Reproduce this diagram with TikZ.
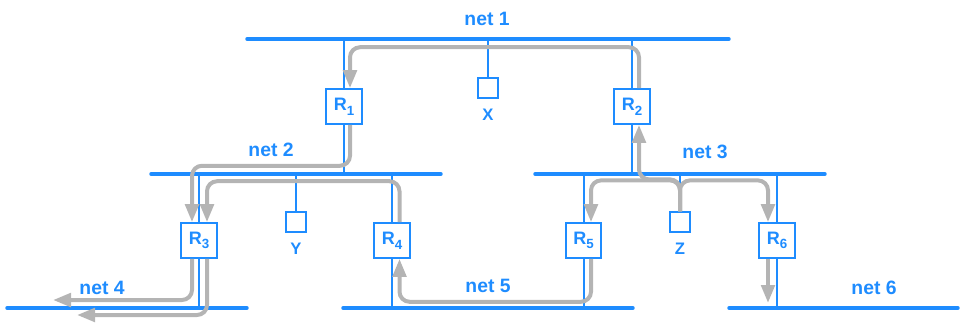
\documentclass[tikz,border=0pt]{standalone}
\usepackage{fontspec}
\setmainfont{Liberation Sans}
\usetikzlibrary{arrows.meta,calc}
\definecolor{netblue}{RGB}{30,140,255}
\definecolor{flowgray}{RGB}{180,180,180}
\newcommand{\rlab}[1]{\textbf{R\raisebox{-3.5pt}{\fontsize{10}{11}\selectfont #1}}}
\tikzset{
  net/.style={draw=netblue,line width=2.6pt,line cap=round},
  link/.style={draw=netblue,line width=1.5pt},
  router/.style={draw=netblue,line width=1.4pt,fill=white,minimum width=26.5pt,minimum height=26pt,inner sep=0pt,text=netblue,font=\fontsize{13.5}{15}\selectfont\bfseries},
  host/.style={draw=netblue,line width=1.4pt,fill=white,minimum size=14.5pt,inner sep=0pt},
  lab/.style={text=netblue,font=\fontsize{12.5}{14}\selectfont\bfseries,anchor=base,inner sep=0pt},
  netlab/.style={text=netblue,font=\fontsize{14.5}{16}\selectfont\bfseries,anchor=base,inner sep=0pt},
  flow/.style={draw=flowgray,line width=3pt,rounded corners=7.5pt,-{Triangle[length=13.5pt,width=10pt]}},
}
\begin{document}
\begin{tikzpicture}[x=0.75pt,y=-0.75pt]
\useasboundingbox (0,0) rectangle (961,322);
% net end points
\coordinate (n1w) at (247,39);  \coordinate (n1e) at (729,39);
\coordinate (n2w) at (151,174); \coordinate (n2e) at (441,174);
\coordinate (n3w) at (535,174); \coordinate (n3e) at (825,174);
\coordinate (n4w) at (7,308);   \coordinate (n4e) at (247,308);
\coordinate (n5w) at (343,308); \coordinate (n5e) at (633,308);
\coordinate (n6w) at (729,308); \coordinate (n6e) at (958,308);
\draw[net] (n1w) -- (n1e);
\draw[net] (n2w) -- (n2e);
\draw[net] (n3w) -- (n3e);
\draw[net] (n4w) -- (n4e);
\draw[net] (n5w) -- (n5e);
\draw[net] (n6w) -- (n6e);
% net labels
\node[netlab] (l1) at (487,25.7) {net 1};
\node[netlab] (l2) at (271,156.7) {net 2};
\node[netlab] (l3) at (705,158) {net 3};
\node[netlab] (l4) at (102,294) {net 4};
\node[netlab] (l5) at (488,292) {net 5};
\node[netlab] (l6) at (874,294) {net 6};
% router positions
\coordinate (p1) at (344,106.5);
\coordinate (p2) at (632,106.5);
\coordinate (p3) at (199,240.5);
\coordinate (p4) at (392,240.5);
\coordinate (p5) at (583.5,240.5);
\coordinate (p6) at (777,240.5);
% links
\draw[link] (p1 |- n1w) -- (p1 |- n2w);
\draw[link] (p2 |- n1w) -- (p2 |- n3w);
\draw[link] (p3 |- n2w) -- (p3 |- n4w);
\draw[link] (p4 |- n2w) -- (p4 |- n5w);
\draw[link] (p5 |- n3w) -- (p5 |- n5w);
\draw[link] (p6 |- n3w) -- (p6 |- n6w);
% hosts
\node[host] (X) at (488,88) {};
\node[host] (Y) at (296,222) {};
\node[host] (Z) at (680,222) {};
\draw[link] (X.north |- n1w) -- (X.north);
\draw[link] (Y.north |- n2w) -- (Y.north);
\draw[link] (Z.north |- n3w) -- (Z.north);
\node[lab] (lx) at (488,120) {X};
\node[lab] (ly) at (296,254) {Y};
\node[lab] (lz) at (680,254) {Z};
% routers
\node[router] (R1) at (p1) {\rlab{1}};
\node[router] (R2) at (p2) {\rlab{2}};
\node[router] (R3) at (p3) {\rlab{3}};
\node[router] (R4) at (p4) {\rlab{4}};
\node[router] (R5) at (p5) {\rlab{5}};
\node[router] (R6) at (p6) {\rlab{6}};
% free ends
\coordinate (t4a) at (53,300);
\coordinate (t4b) at (77,315);
\coordinate (t6) at (768,303);
% flows
\draw[flow] ($(R2.north)+(7,0)$) -- ++(0,-41) -| ($(R1.north)+(6,0)$);
\draw[flow] ($(R1.south)+(6,0)$) -- ++(0,41) -| ($(R3.north)+(-7,0)$);
\draw[flow] ($(R3.south)+(-7,0)$) |- (t4a);
\draw[flow] ($(R4.north)+(7.5,0)$) -- ++(0,-41) -| ($(R3.north)+(8,0)$);
\draw[flow] ($(R3.south)+(8,0)$) |- (t4b);
\draw[flow] ($(R5.south)+(7.5,0)$) -- ++(0,43) -| ($(R4.south)+(7.5,0)$);
\draw[flow] (Z.north) -- ++(0,-32) -| ($(R2.south)+(7,0)$);
\draw[flow] (Z.north) -- ++(0,-31) -| ($(R5.north)+(7.5,0)$);
\draw[flow] (Z.north) -- ++(0,-31) -| ($(R6.north)+(-9,0)$);
\draw[flow] ($(R6.south)+(-9,0)$) -- (t6);
\end{tikzpicture}
\end{document}
